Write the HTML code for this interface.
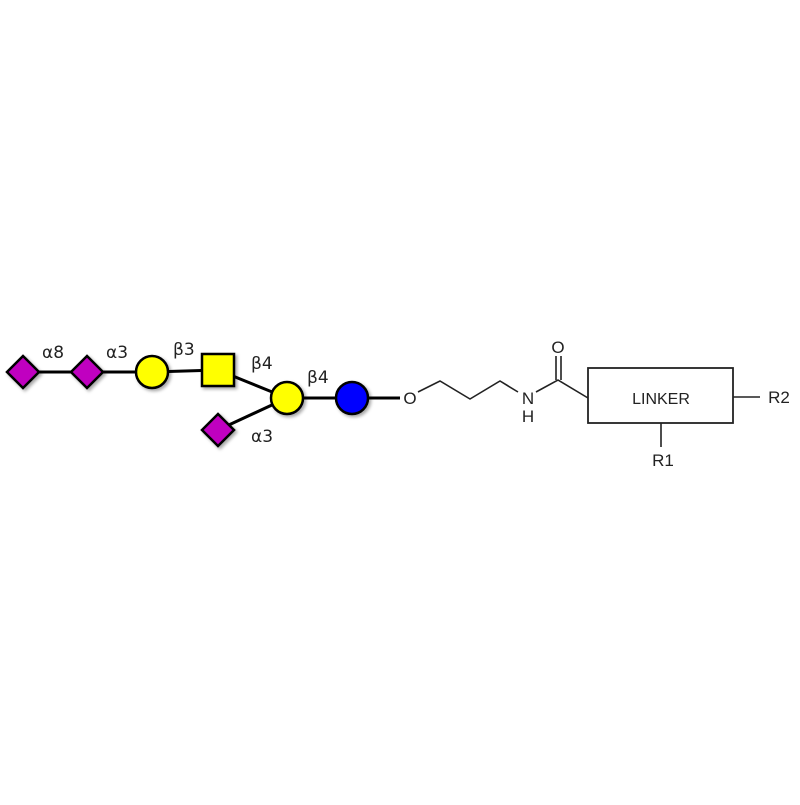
<!DOCTYPE html>
<html><head><meta charset="utf-8"><style>body{margin:0;background:#fff}</style></head><body>
<svg width="800" height="800" viewBox="0 0 800 800" xmlns="http://www.w3.org/2000/svg">
<defs><filter id="s" x="-50%" y="-50%" width="200%" height="200%"><feDropShadow dx="2" dy="2" stdDeviation="1.5" flood-opacity="0.35"/></filter></defs>
<g stroke="#000" stroke-width="3" fill="none">
<line x1="23" y1="372" x2="152" y2="372"/>
<line x1="152" y1="372" x2="218" y2="370"/>
<line x1="218" y1="370" x2="287" y2="398"/>
<line x1="218" y1="430" x2="287" y2="398"/>
<line x1="287" y1="398" x2="400" y2="398"/>
</g>
<g stroke="#000" stroke-width="2.5" filter="url(#s)">
<polygon points="23,356 39,372 23,388 7,372" fill="#c000c0"/>
<polygon points="87,356 103,372 87,388 71,372" fill="#c000c0"/>
<circle cx="152" cy="372" r="16" fill="#ffff00"/>
<rect x="202" y="354" width="32" height="32" fill="#ffff00"/>
<circle cx="287" cy="398" r="16" fill="#ffff00"/>
<polygon points="218,414 234,430 218,446 202,430" fill="#c000c0"/>
<circle cx="352" cy="398" r="16" fill="#0000ff"/>
</g>
<g font-family="DejaVu Sans, sans-serif" font-size="17" fill="#222">
<text x="42" y="358">α8</text>
<text x="106" y="358">α3</text>
<text x="173" y="355">β3</text>
<text x="251" y="369">β4</text>
<text x="307" y="383">β4</text>
<text x="251" y="442">α3</text>
</g>
<g stroke="#222" stroke-width="1.6" fill="none">
<polyline points="418,392 440,381 470,399 500,381 518,392"/>
<polyline points="536,392 558,380 588,398"/>
<line x1="556" y1="380" x2="556" y2="356"/>
<line x1="561" y1="380" x2="561" y2="356"/>
<rect x="588" y="368" width="145" height="55" stroke-width="1.8"/>
<line x1="733" y1="397" x2="760" y2="397"/>
<line x1="661" y1="423" x2="661" y2="447"/>
</g>
<g font-family="Liberation Sans, sans-serif" font-size="17" fill="#222" text-anchor="middle">
<text x="410" y="404">O</text>
<text x="528" y="404">N</text>
<text x="528" y="422">H</text>
<text x="558" y="353">O</text>
<text x="661" y="404" font-size="16">LINKER</text>
<text x="779" y="403">R2</text>
<text x="663" y="466">R1</text>
</g>
</svg>
</body></html>
